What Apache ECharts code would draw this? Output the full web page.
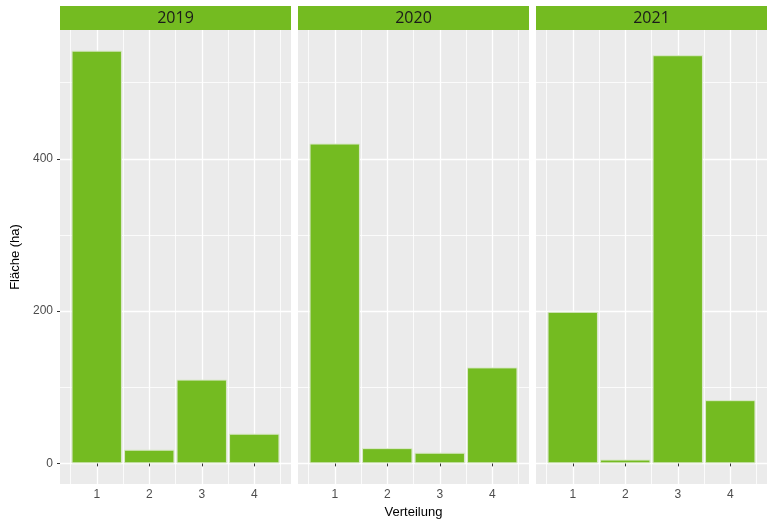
<!DOCTYPE html>
<html>
<head>
<meta charset="utf-8">
<script src="https://cdn.jsdelivr.net/npm/echarts@6/dist/echarts.min.js"></script>
<style>
  html, body { margin: 0; padding: 0; background: #fff; }
  #chart { width: 775px; height: 529px; }
</style>
</head>
<body>
<div id="chart"></div>
<script>
// Daten
const years = ['2019', '2020', '2021']
const verteilung = [1, 2, 3, 4]
const flaeche2019 = [542, 18, 110, 39]
const flaeche2020 = [420, 20, 14, 126]
const flaeche2021 = [199, 5, 536, 83]
const yTicks = [0, 200, 400]
const yMinorTicks = [100, 300, 500]
const xMinorTicks = [0.5, 1.5, 2.5, 3.5, 4.5]

const values = [flaeche2019, flaeche2020, flaeche2021]
const green = '#74BB21'
const panelBg = '#EBEBEB'
const fontFamily = '"Liberation Sans", Arial, sans-serif'

const panelLeft = [60, 298, 536]
const panelWidth = 231
const panelTop = 30
const panelHeight = 454

const yMax = Math.max(...values.flat())
const yMin = -yMax * 0.05
const yTop = yMax * 1.05

const grid = []
const xAxis = []
const yAxis = []
const series = []
const graphic = []

years.forEach((year, i) => {
  grid.push({
    left: panelLeft[i], top: panelTop, width: panelWidth, height: panelHeight,
    show: true, backgroundColor: panelBg, borderWidth: 0
  })

  // x: Hilfslinien auf halben Stufen
  xAxis.push({
    type: 'value', gridIndex: i, min: 0.3, max: 4.7, position: 'bottom', offset: 0,
    axisLine: { show: false },
    axisTick: { show: false, customValues: xMinorTicks },
    axisLabel: { show: false },
    splitLine: { show: true, lineStyle: { color: '#fff', width: 0.8 } }
  })
  // x: Hauptlinien, Ticks, Beschriftung
  xAxis.push({
    type: 'value', gridIndex: i, min: 0.3, max: 4.7, position: 'bottom', offset: 0,
    axisLine: { show: false },
    axisTick: { show: true, customValues: verteilung, length: 3, lineStyle: { color: '#333', width: 1 } },
    axisLabel: {
      show: true, customValues: verteilung, color: '#4D4D4D', fontSize: 12,
      fontFamily: fontFamily, margin: 5
    },
    splitLine: { show: true, lineStyle: { color: '#fff', width: 1.3 } },
    name: i === 1 ? 'Verteilung' : '',
    nameLocation: 'middle', nameGap: 22,
    nameTextStyle: { color: '#000', fontSize: 13, fontFamily: fontFamily }
  })

  yAxis.push({
    type: 'value', gridIndex: i, min: yMin, max: yTop, position: 'left', offset: 0,
    axisLine: { show: false },
    axisTick: { show: false, customValues: yMinorTicks },
    axisLabel: { show: false },
    splitLine: { show: true, lineStyle: { color: '#fff', width: 0.8 } }
  })
  yAxis.push({
    type: 'value', gridIndex: i, min: yMin, max: yTop, position: 'left', offset: 0,
    axisLine: { show: false },
    axisTick: { show: i === 0, customValues: yTicks, length: 3, lineStyle: { color: '#333', width: 1 } },
    axisLabel: {
      show: i === 0, customValues: yTicks, color: '#4D4D4D', fontSize: 12,
      fontFamily: fontFamily, margin: 7
    },
    splitLine: { show: true, lineStyle: { color: '#fff', width: 1.3 } },
    name: i === 0 ? 'Fläche (ha)' : '',
    nameLocation: 'middle', nameGap: 38, nameRotate: 90,
    nameTextStyle: { color: '#000', fontSize: 13, fontFamily: fontFamily }
  })

  series.push({
    type: 'bar',
    name: year,
    xAxisIndex: i * 2 + 1,
    yAxisIndex: i * 2 + 1,
    data: verteilung.map((v, k) => [v, values[i][k]]),
    barWidth: '96%',
    itemStyle: { color: green, borderColor: '#D9E8C8', borderWidth: 1 },
    z: 3
  })

  // Streifen mit Jahreszahl
  graphic.push({
    type: 'rect',
    shape: { x: panelLeft[i], y: 6, width: panelWidth, height: 24 },
    style: { fill: green },
    silent: true
  })
  graphic.push({
    type: 'text',
    x: panelLeft[i] + panelWidth / 2, y: 18,
    style: {
      text: year, fill: '#1A1A1A', font: '16px "Open Sans", sans-serif',
      align: 'center', verticalAlign: 'middle'
    },
    silent: true
  })
})

const chart = echarts.init(document.getElementById('chart'))
chart.setOption({
  animation: false,
  grid: grid,
  xAxis: xAxis,
  yAxis: yAxis,
  series: series,
  graphic: graphic
})
</script>
</body>
</html>
